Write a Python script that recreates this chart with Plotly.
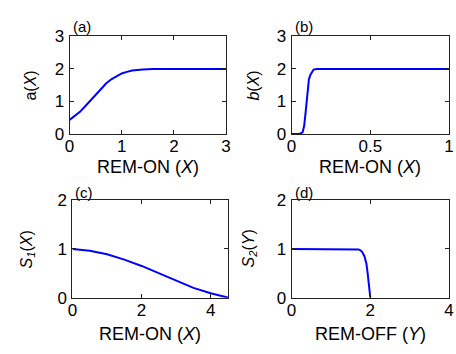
import plotly.graph_objects as go

# ---- data ----
a_x = [0, 0.1, 0.2, 0.3, 0.4, 0.5, 0.6, 0.7, 0.8, 0.9, 1.0, 1.1, 1.2, 1.4, 1.6, 2.0, 3.0]
a_y = [0.43, 0.55, 0.68, 0.85, 1.02, 1.2, 1.38, 1.55, 1.68, 1.78, 1.86, 1.91, 1.95, 1.98, 2.0, 2.0, 2.0]

b_x = [0, 0.05, 0.07, 0.08, 0.09, 0.1, 0.11, 0.12, 0.13, 0.14, 0.16, 1.0]
b_y = [0, 0, 0.05, 0.25, 0.7, 1.3, 1.68, 1.82, 1.92, 1.98, 2.0, 2.0]

s1_x = [0, 0.5, 1, 1.5, 2, 2.5, 3, 3.5, 4, 4.5]
s1_y = [1.0, 0.96, 0.89, 0.78, 0.65, 0.5, 0.34, 0.2, 0.09, 0.0]

s2_x = [0, 1.6, 1.7, 1.75, 1.8, 1.85, 1.9, 1.93, 1.96, 1.98, 2.0]
s2_y = [1, 1, 0.99, 0.97, 0.93, 0.85, 0.7, 0.52, 0.3, 0.15, 0]

W, H = 456, 354
FONT = "Arial, Liberation Sans, sans-serif"

# panel boxes in pixels: (left, right, top, bottom)
boxes = {
    "a": (66, 226, 29, 132),
    "b": (293, 454, 29, 132),
    "c": (69, 228, 202, 305),
    "d": (293, 454, 202, 305),
}

panels = [
    ("a", a_x, a_y, [0, 3], [0, 1, 2, 3], [0, 3], [0, 1, 2, 3], "a(<i>X</i>)", "REM-ON (<i>X</i>)"),
    ("b", b_x, b_y, [0, 1], [0, 0.5, 1], [0, 3], [0, 1, 2, 3], "<i>b</i>(<i>X</i>)", "REM-ON (<i>X</i>)"),
    ("c", s1_x, s1_y, [0, 4.5], [0, 2, 4], [0, 2], [0, 1, 2], "<i>S<sub>1</sub></i>(<i>X</i>)", "REM-ON (<i>X</i>)"),
    ("d", s2_x, s2_y, [0, 4], [0, 2, 4], [0, 2], [0, 1, 2], "<i>S<sub>2</sub></i>(<i>Y</i>)", "REM-OFF (<i>Y</i>)"),
]

fig = go.Figure()
layout = dict(
    width=W, height=H,
    margin=dict(l=0, r=0, t=0, b=0),
    paper_bgcolor="white", plot_bgcolor="white",
    showlegend=False,
    font=dict(family=FONT, color="black"),
)
annotations = []
for i, (lab, xs, ys, xr, xt, yr, yt, ytitle, xtitle) in enumerate(panels):
    n = "" if i == 0 else str(i + 1)
    l, r, t, b = boxes[lab]
    fig.add_trace(go.Scatter(x=xs, y=ys, mode="lines", line=dict(color="#0000ff", width=2),
                             xaxis="x" + n, yaxis="y" + n, hoverinfo="skip", cliponaxis=False))
    common = dict(showline=True, linecolor="#222", linewidth=1, mirror="ticks",
                  ticks="inside", ticklen=4, tickcolor="#222", showgrid=False, zeroline=False,
                  tickfont=dict(size=17, family=FONT, color="black"))
    layout["xaxis" + n] = dict(domain=[l / W, r / W], range=xr, tickvals=xt,
                               anchor="y" + n, ticklabelstandoff=-3, **common)
    layout["yaxis" + n] = dict(domain=[1 - b / H, 1 - t / H], range=yr, tickvals=yt,
                               anchor="x" + n, ticklabelstandoff=1, **common)
    # y title
    yt_x = {"a": 26, "b": 254, "c": 23, "d": 250}[lab]
    annotations.append(dict(text=ytitle, x=yt_x / W, y=1 - ((t + b) / 2) / H, xref="paper", yref="paper",
                            showarrow=False, textangle=-90, font=dict(size=16, family=FONT),
                            xanchor="center", yanchor="middle"))
    # x title
    xt_y = {"a": 167, "b": 167, "c": 343, "d": 343}[lab]
    annotations.append(dict(text=xtitle, x=((l + r) / 2) / W, y=1 - xt_y / H, xref="paper", yref="paper",
                            showarrow=False, font=dict(size=18, family=FONT),
                            xanchor="center", yanchor="middle"))
    # panel label
    pl_y = {"a": 18, "b": 18, "c": 194, "d": 194}[lab]
    annotations.append(dict(text="(" + lab + ")", x=(l + 1) / W, y=1 - pl_y / H, xref="paper", yref="paper",
                            showarrow=False, font=dict(size=15, family=FONT),
                            xanchor="left", yanchor="middle"))

layout["annotations"] = annotations
fig.update_layout(**layout)
fig.write_html("out.html")
